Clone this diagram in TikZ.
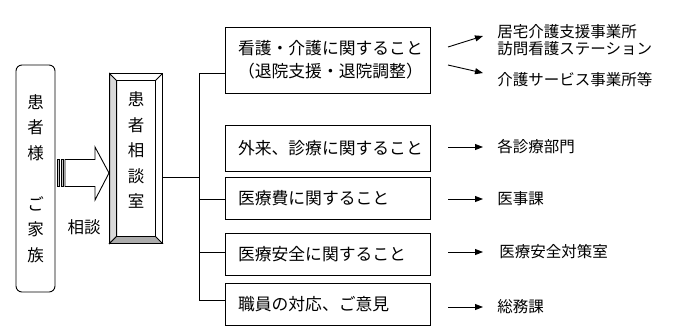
\documentclass[tikz,border=0pt]{standalone}
\usepackage{fontspec}
\setmainfont{Noto Sans CJK JP}
\usetikzlibrary{arrows.meta}
\tikzset{every picture/.style={line width=0.9pt}}

\begin{document}
\begin{tikzpicture}[x=1pt, y=-1pt, >={Triangle[length=8pt,width=6pt]},
    topic/.style={draw, minimum width=205pt, text width=179pt, inner xsep=13pt, align=left,
        font=\fontsize{16.8}{23}\selectfont},
    dept/.style={anchor=west, inner sep=0pt, align=left, font=\fontsize{15.5}{16.5}\selectfont},
    vtext/.style={align=center, inner sep=0pt, font=\fontsize{16.5}{25.5}\selectfont}]
    \useasboundingbox (0,0) rectangle (700,333);

    % 患者様・ご家族
    \node[draw, rounded corners=6pt, minimum width=39pt, minimum height=227pt, vtext]
        (patient) at (35.5,178.5) {患\\者\\様\\\mbox{}\\ご\\家\\族};

    % 相談の矢印
    \filldraw[fill=gray!45] (57,159.5) rectangle (59,186.5);
    \filldraw[fill=gray!45] (61,159.5) rectangle (63,186.5);
    \draw (65,159.5) -- (95,159.5) -- (95,147) -- (109,173) -- (95,200) -- (95,186.5) -- (65,186.5) -- cycle;
    \node[font=\fontsize{16.5}{18}\selectfont] (soudan) at (84,227) {相談};

    % 患者相談室
    \node[minimum width=52pt, minimum height=169pt, inner sep=0pt] (consult) at (136,158.5) {};
    \node[minimum width=38pt, minimum height=155pt, inner sep=0pt] (consultin) at (136,158.5) {};
    \filldraw[fill=gray!30] (consult.north west) -- (consultin.north west) -- (consultin.south west) -- (consult.south west) -- cycle;
    \filldraw[fill=gray!65] (consult.south west) -- (consultin.south west) -- (consultin.south east) -- (consult.south east) -- cycle;
    \draw (consult.north west) rectangle (consult.south east);
    \draw (consultin.north west) rectangle (consultin.south east);
    \draw (consult.north east) -- (consultin.north east);
    \node[vtext] (consultlabel) at (136,150) {患\\者\\相\\談\\室};

    % 相談内容
    \node[topic, minimum height=66pt] (nursing) at (327.5,60) {看護・介護に関すること\\（退院支援・退院調整）};
    \node[topic, minimum height=46pt] (clinicbox) at (327.5,148) {外来、診療に関すること};
    \node[topic, minimum height=42pt] (costbox) at (327.5,198) {医療費に関すること};
    \node[topic, minimum height=42pt] (safetybox) at (327.5,254) {医療安全に関すること};
    \node[topic, minimum height=42pt] (staffbox) at (327.5,304) {職員の対応、ご意見};

    % 分岐線
    \coordinate (trunktop) at (199,73);
    \coordinate (hub) at (199,177);
    \coordinate (trunkcost) at (199,199);
    \coordinate (trunksafety) at (199,252);
    \coordinate (trunkstaff) at (199,300);
    \draw (consult.east |- hub) -- (hub);
    \draw (trunktop) -- (trunkstaff);
    \draw (trunktop) -- (nursing.west |- trunktop);
    \draw (trunkcost) -- (costbox.west |- trunkcost);
    \draw (trunksafety) -- (safetybox.west |- trunksafety);
    \draw (trunkstaff) -- (staffbox.west |- trunkstaff);

    % 担当部署
    \node[dept] (homecare) at (497,40) {居宅介護支援事業所\\訪問看護ステーション};
    \node[dept] (service) at (497,80) {介護サービス事業所等};
    \node[dept] (clinic) at (497,147) {各診療部門};
    \node[dept] (medaffairs) at (497,199) {医事課};
    \node[dept] (safetyoffice) at (499,252) {医療安全対策室};
    \node[dept] (general) at (497,307) {総務課};

    % 矢印
    \draw[->] (homecare.west) ++(-49,7) -- ++(35,-11);
    \draw[->] (service.west) ++(-49,-15) -- ++(35,8);
    \draw[->] (clinic.west) ++(-49,0) -- ++(35,0);
    \draw[->] (medaffairs.west) ++(-49,0) -- ++(35,0);
    \draw[->] (safetyoffice.west) ++(-51,0) -- ++(35,0);
    \draw[->] (general.west) ++(-49,0) -- ++(35,0);
\end{tikzpicture}
\end{document}
